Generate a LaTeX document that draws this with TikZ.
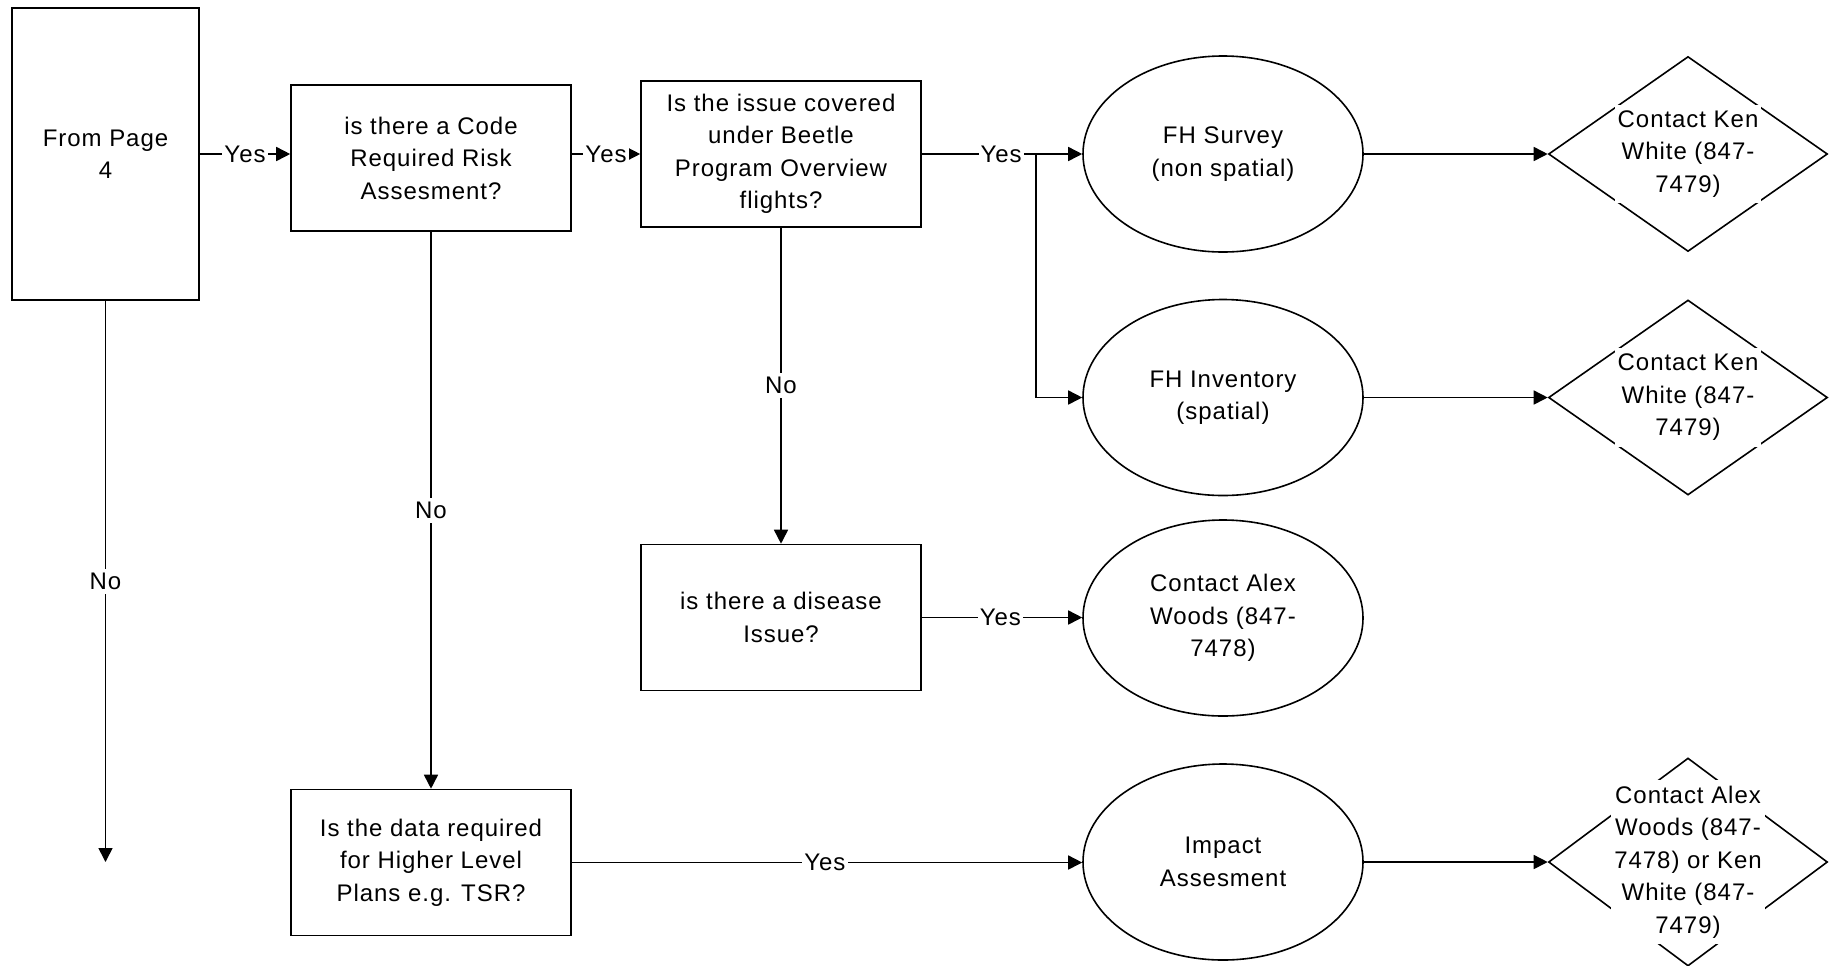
\documentclass[tikz,border=0pt]{standalone}
\usepackage{fontspec}
\setmainfont{Liberation Sans}[LetterSpace=4]
\usetikzlibrary{shapes.geometric,arrows.meta}
\begin{document}
\begin{tikzpicture}[x=0.5pt,y=-0.5pt,
  every node/.style={font=\fontsize{12}{16.25}\selectfont, align=center},
  box/.style={draw, line width=0.8pt, rectangle, minimum width=140pt, minimum height=73pt, inner sep=0pt},
  oval/.style={draw, ellipse, line width=0.8pt, minimum width=140pt, minimum height=98pt, inner sep=0pt},
  dia/.style={draw, diamond, line width=0.8pt, minimum width=139.5pt, minimum height=97.5pt, inner sep=0pt},
  dtext/.style={fill=white, inner xsep=1.5pt, inner ysep=3pt},
  lbl/.style={fill=white, inner xsep=1pt, inner ysep=2pt},
  arr/.style={line width=0.8pt, -{Triangle[length=7pt,width=7pt]}},
  ln/.style={line width=0.8pt}]
\useasboundingbox[fill=white] (0,0) rectangle (1835,965);

% boxes
\node[box, minimum width=93.5pt, minimum height=146pt] (fp) at (105.5,154) {From Page\\4};
\node[box] (b2) at (431,158) {is there a Code\\Required Risk\\Assesment?};
\node[box] (b3) at (781,154) {Is the issue covered\\under Beetle\\Program Overview\\flights?};
\node[box] (dis) at (781,617.5) {is there a disease\\Issue?};
\node[box] (hl) at (431,862.5) {Is the data required\\for Higher Level\\Plans e.g. TSR?};

% ellipses
\node[oval] (fhs) at (1223,154) {FH Survey\\(non spatial)};
\node[oval] (fhi) at (1223,397.5) {FH Inventory\\(spatial)};
\node[oval] (ca) at (1223,618) {Contact Alex\\Woods (847-\\7478)};
\node[oval] (ia) at (1223,862) {Impact\\Assesment};

% diamonds
\node[dia] (d1) at (1688,154) {};
\node[dia] (d2) at (1688,397.5) {};
\node[dia, minimum height=104pt] (d3) at (1688,862) {};
\node[dtext] (t1) at (d1) {Contact Ken\\White (847-\\7479)};
\node[dtext] (t2) at (d2) {Contact Ken\\White (847-\\7479)};
\node[dtext] (t3) at (d3) {Contact Alex\\Woods (847-\\7478) or Ken\\White (847-\\7479)};

\coordinate (j1) at (1036,154);
\coordinate (fpend) at (105.5,862);

% connectors
\draw[arr] (fp.east) -- node[lbl]{Yes} (fp.east -| b2.west);
\draw[arr] (b2.east |- b3.west) -- node[lbl]{Yes} (b3.west);
\draw[arr] (b3.east) -- node[lbl, pos=0.494]{Yes} (fhs.west);
\draw[arr] (j1) |- (fhi.west);
\draw[arr] (fhs.east) -- (d1.west);
\draw[arr] (fhi.east) -- (d2.west);
\draw[arr] (b3.south) -- node[lbl]{No} (dis.north);
\draw[arr] (dis.east -| dis.east) -- node[lbl, pos=0.49]{Yes} (dis.east -| ca.west);
\draw[arr] (b2.south) -- node[lbl]{No} (hl.north);
\draw[arr] (hl.east) -- node[lbl, pos=0.496]{Yes} (hl.east -| ia.west);
\draw[arr] (ia.east) -- (d3.west);
\draw[arr] (fp.south) -- node[lbl]{No} (fpend);
\end{tikzpicture}
\end{document}
